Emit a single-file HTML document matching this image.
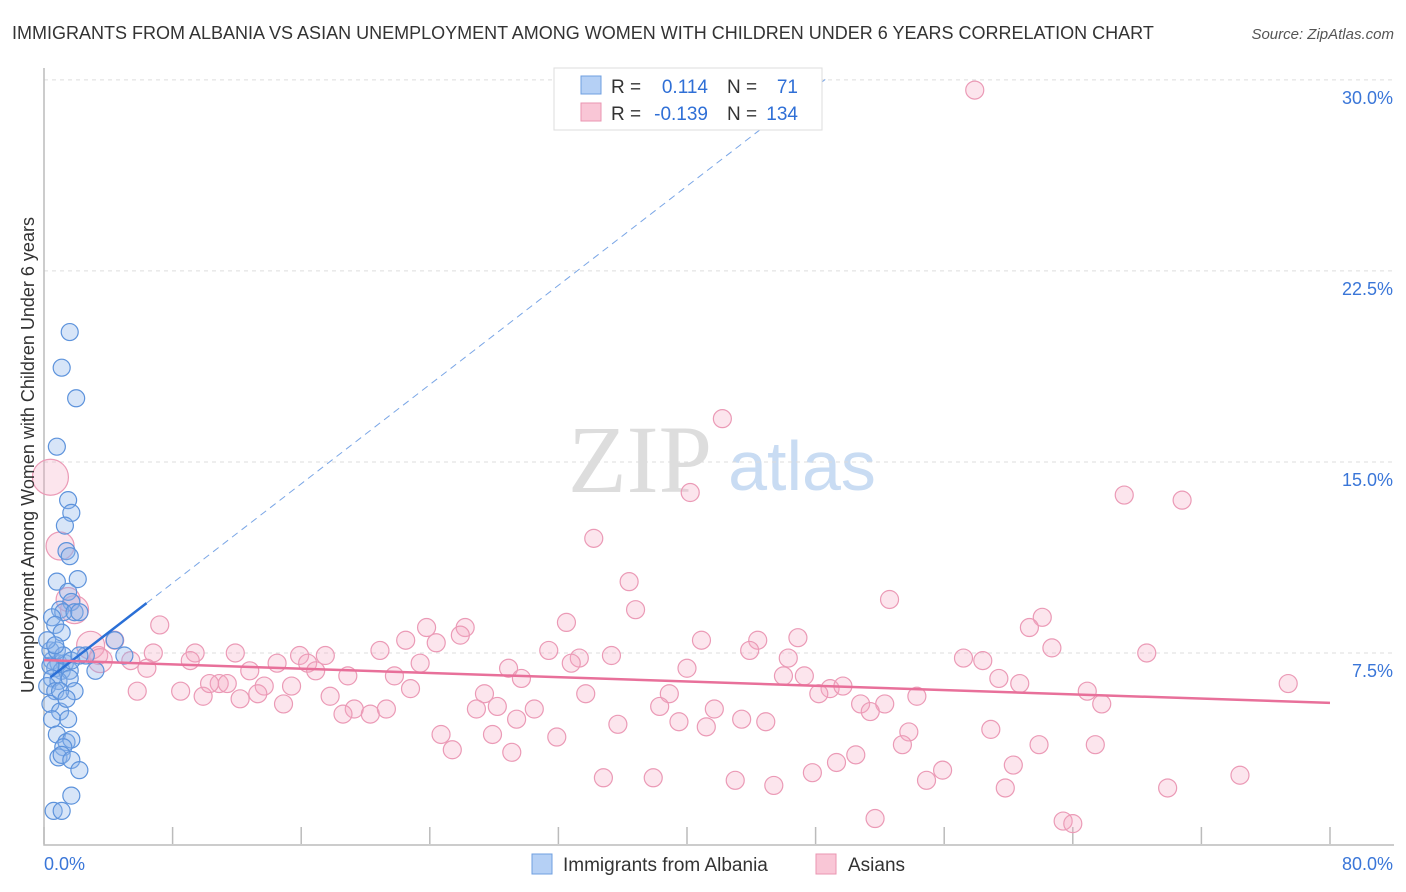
<!DOCTYPE html>
<html><head><meta charset="utf-8"><style>
body{margin:0;background:#fff;font-family:"Liberation Sans",sans-serif;}
#wrap{position:relative;width:1406px;height:892px;overflow:hidden;}
</style></head><body>
<div id="wrap">
<svg id="chart" width="1406" height="892" xmlns="http://www.w3.org/2000/svg">
<text x="12" y="39" font-size="18" fill="#333">IMMIGRANTS FROM ALBANIA VS ASIAN UNEMPLOYMENT AMONG WOMEN WITH CHILDREN UNDER 6 YEARS CORRELATION CHART</text>
<text x="1394" y="39" font-size="15" font-style="italic" fill="#555" text-anchor="end">Source: ZipAtlas.com</text>
<text x="640" y="492" font-size="96" font-family="Liberation Serif,serif" fill="#ddd" text-anchor="middle">ZIP</text>
<text x="802" y="490" font-size="70" fill="#c9dcf3" text-anchor="middle">atlas</text>
<g id="grid"></g>
<g id="axes"></g>
<g id="pts"></g>
<g id="lines"></g>
<text transform="translate(34,455) rotate(-90)" font-size="18" fill="#333" text-anchor="middle">Unemployment Among Women with Children Under 6 years</text>
<g>
<rect x="554" y="68" width="268" height="62" fill="#fff" stroke="#ddd"/>
<rect x="581" y="76" width="20" height="18" fill="#b5d0f5" stroke="#6f9fe0"/>
<rect x="581" y="103" width="20" height="18" fill="#f9c6d6" stroke="#ea95b1"/>
<text x="611" y="93" font-size="19" fill="#333">R =</text>
<text x="708" y="93" font-size="19" fill="#2f6fd6" text-anchor="end">0.114</text>
<text x="727" y="93" font-size="19" fill="#333">N =</text>
<text x="798" y="93" font-size="19" fill="#2f6fd6" text-anchor="end">71</text>
<text x="611" y="120" font-size="19" fill="#333">R =</text>
<text x="708" y="120" font-size="19" fill="#2f6fd6" text-anchor="end">-0.139</text>
<text x="727" y="120" font-size="19" fill="#333">N =</text>
<text x="798" y="120" font-size="19" fill="#2f6fd6" text-anchor="end">134</text>
</g>
<g>
<rect x="532" y="854" width="20" height="20" fill="#b5d0f5" stroke="#6f9fe0"/>
<text x="563" y="871" font-size="19" fill="#333">Immigrants from Albania</text>
<rect x="816" y="854" width="20" height="20" fill="#f9c6d6" stroke="#ea95b1"/>
<text x="848" y="871" font-size="19" fill="#333">Asians</text>
</g>
</svg>
</div>
<script>
const yTicks=[7.5,15,22.5,30];
const yTickLabels=["7.5%","15.0%","22.5%","30.0%"];
const xTickVals=[0,8,16,24,32,40,48,56,64,72,80];
const xEndLabels=["0.0%","80.0%"];
const blueX=[1.6,1.1,2.0,0.8,1.5,1.7,1.3,1.4,1.6,0.8,2.1,1.5,1.7,1.0,1.2,1.9,2.2,0.5,0.7,1.1,4.4,2.6,5.0,0.5,0.9,1.3,0.7,1.1,0.4,1.6,3.2,0.5,0.9,1.6,0.2,0.7,1.9,0.4,1.0,0.5,1.5,0.8,1.4,1.7,1.2,0.9,1.1,1.7,2.2,1.7,0.6,1.1,0.4,0.8,1.2,0.2,0.7,1.7,2.2,1.0,1.4];
const blueY=[20.1,18.7,17.5,15.6,13.5,13.0,12.5,11.5,11.3,10.3,10.4,9.9,9.5,9.2,9.1,9.1,9.1,8.9,8.6,8.3,8.0,7.4,7.4,7.2,7.1,7.1,6.9,6.8,7.0,6.8,6.8,6.5,6.4,6.5,6.2,6.0,6.0,5.5,5.2,4.9,4.9,4.3,4.0,4.1,3.8,3.4,3.5,3.3,2.9,1.9,1.3,1.3,7.6,7.6,7.4,8.0,7.8,7.2,7.4,6.0,5.7];
const pinkX=[57.9,42.2,40.2,67.2,70.8,34.2,36.4,36.8,52.6,7.2,32.5,62.1,61.3,23.8,26.2,25.9,4.4,22.5,24.4,40.9,44.4,46.9,43.9,62.7,6.8,9.4,11.9,15.9,17.5,20.9,31.4,33.3,35.3,46.3,57.2,58.4,68.6,3.4,5.4,9.1,14.5,16.4,23.4,28.9,32.8,40.0,6.4,12.8,16.9,18.9,21.8,29.7,46.0,47.3,59.4,60.7,77.4,5.8,8.5,9.9,10.9,11.4,10.3,12.2,13.7,15.4,13.3,17.8,22.8,27.4,33.7,38.9,48.9,48.2,49.7,54.3,64.9,14.9,19.3,18.6,20.3,21.3,26.9,28.2,30.5,38.3,41.7,50.8,52.3,51.4,65.8,29.4,39.5,43.4,44.9,35.7,41.2,58.9,24.7,27.9,31.9,53.8,53.4,61.9,65.4,25.4,29.1,50.5,49.3,55.9,60.3,47.8,34.8,37.9,43.0,45.4,54.9,74.4,59.8,69.9,51.7,63.4,64.0,0.4,1.0,1.9,1.5,2.9,3.5];
const pinkY=[29.6,16.7,13.8,13.7,13.5,12.0,10.3,9.2,9.6,8.6,8.7,8.9,8.5,8.5,8.5,8.2,8.0,8.0,7.9,8.0,8.0,8.1,7.6,7.7,7.5,7.5,7.5,7.4,7.4,7.6,7.6,7.3,7.4,7.3,7.3,7.2,7.5,7.4,7.2,7.2,7.1,7.1,7.1,6.9,7.1,6.9,6.9,6.8,6.8,6.6,6.6,6.5,6.6,6.6,6.5,6.3,6.3,6.0,6.0,5.8,6.3,6.3,6.3,5.7,6.2,6.2,5.9,5.8,6.1,5.9,5.9,5.9,6.1,5.9,6.2,5.8,6.0,5.5,5.3,5.1,5.1,5.3,5.3,5.4,5.3,5.4,5.3,5.5,5.5,5.2,5.5,4.9,4.8,4.9,4.8,4.7,4.6,4.5,4.3,4.3,4.2,4.4,3.9,3.9,3.9,3.7,3.6,3.5,3.2,2.9,3.1,2.8,2.6,2.6,2.5,2.3,2.5,2.7,2.2,2.2,1.0,0.9,0.8,14.4,11.7,9.2,9.6,7.8,7.2];
const pinkBig=[0.4,1.0,1.9,1.5,2.9,3.5];
const pinkBigR=[18,14,14,12,14,12];
const blueTrend=[0.4,6.38,48.6];   // x start, solid end, dashed end
const blueIntercept=6.35, blueSlope=0.487;
const pinkTrend=[0,80];
const pinkIntercept=7.22, pinkSlope=-0.021;

const X0=44,X1=1330,Y0=844,PX=(X1-X0)/80,PY=25.47;
function sx(v){return X0+v*PX;}
function sy(v){return Y0-v*PY;}
const NS="http://www.w3.org/2000/svg";
function mk(tag,attrs,parent){const e=document.createElementNS(NS,tag);for(const k in attrs)e.setAttribute(k,attrs[k]);parent.appendChild(e);return e;}
const grid=document.getElementById('grid'),axes=document.getElementById('axes'),pts=document.getElementById('pts'),lines=document.getElementById('lines');
yTicks.forEach((t,i)=>{
  const l=mk('line',{x1:X0,x2:1394,y1:sy(t),y2:sy(t),stroke:'#ddd','stroke-dasharray':'4,4'},grid);
  
  
  const tx=mk('text',{x:1393,y:sy(t)+24,'font-size':18,fill:'#3a76d8','text-anchor':'end'},axes);
  tx.textContent=yTickLabels[i];
  
  
});
const ax=mk('path',{d:`M${X0},68 V${Y0+1} H1394`,stroke:'#bbb',fill:'none','stroke-width':1.5},axes);


xTickVals.forEach(t=>{
  const l=mk('line',{x1:sx(t),x2:sx(t),y1:Y0-17,y2:Y0,stroke:'#bbb','stroke-width':1.5},axes);
  
  
});
const xl0=mk('text',{x:44,y:870,'font-size':18,fill:'#3a76d8'},axes);xl0.textContent=xEndLabels[0];


const xl1=mk('text',{x:1393,y:870,'font-size':18,fill:'#3a76d8','text-anchor':'end'},axes);xl1.textContent=xEndLabels[1];


pinkX.forEach((x,i)=>{
  const bi=i-(pinkX.length-pinkBig.length);
  const r=bi>=0?pinkBigR[bi]:9;
  const c=mk('circle',{cx:sx(x),cy:sy(pinkY[i]),r:r,fill:'rgba(244,170,195,0.3)',stroke:'#eb9ab6','stroke-width':1.2},pts);
  
  
});
blueX.forEach((x,i)=>{
  const c=mk('circle',{cx:sx(x),cy:sy(blueY[i]),r:8.5,fill:'rgba(140,180,235,0.35)',stroke:'#5d93dc','stroke-width':1.2},pts);
  
  
});
const bf=v=>blueIntercept+blueSlope*v;
const b1=mk('line',{x1:sx(blueTrend[0]),y1:sy(bf(blueTrend[0])),x2:sx(blueTrend[1]),y2:sy(bf(blueTrend[1])),stroke:'#2a6fd6','stroke-width':2.5},lines);


const b2=mk('line',{x1:sx(blueTrend[1]),y1:sy(bf(blueTrend[1])),x2:sx(blueTrend[2]),y2:sy(bf(blueTrend[2])),stroke:'#7aa6e6','stroke-width':1,'stroke-dasharray':'7,5'},lines);


const pf=v=>pinkIntercept+pinkSlope*v;
const p1=mk('line',{x1:sx(pinkTrend[0]),y1:sy(pf(pinkTrend[0])),x2:sx(pinkTrend[1]),y2:sy(pf(pinkTrend[1])),stroke:'#e8709a','stroke-width':2.5},lines);


</script>
</body></html>
